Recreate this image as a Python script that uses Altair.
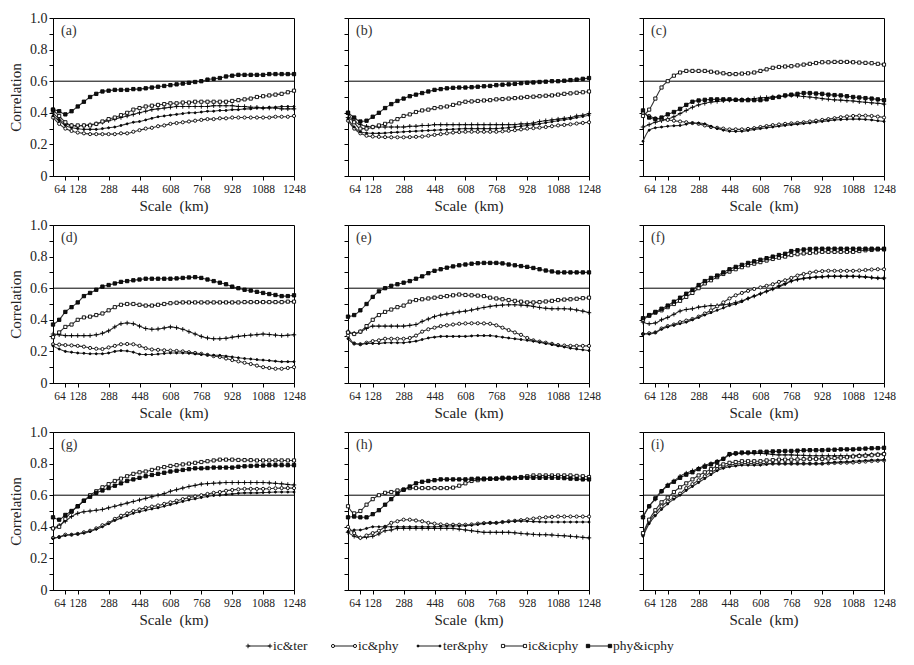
import altair as alt
import pandas as pd

SCALE_KM = [0, 32, 64, 96, 128, 160, 192, 224, 256, 288,
            320, 352, 384, 416, 448, 480, 512, 544, 576, 608,
            640, 672, 704, 736, 768, 800, 832, 864, 896, 928,
            960, 992, 1024, 1056, 1088, 1120, 1152, 1184, 1216, 1248]
SERIES = ["ic&ter", "ic&phy", "ter&phy", "ic&icphy", "phy&icphy"]
X_TICKS = [64, 128, 288, 448, 608, 768, 928, 1088, 1248]
Y_TICKS = [0, 0.1, 0.2, 0.3, 0.4, 0.5, 0.6, 0.7, 0.8, 0.9, 1.0]
THRESHOLD = [0.6]
PANEL_LABELS = ["(a)", "(b)", "(c)", "(d)", "(e)", "(f)", "(g)", "(h)", "(i)"]
X_TITLE = "Scale\u2002(km)"
Y_TITLE = "Correlation"

# ---- panel (a)
a_ic_ter = [.40, .36, .33, .32, .315, .32, .325, .33, .34, .35,
            .36, .37, .38, .39, .40, .41, .42, .425, .43, .435,
            .44, .44, .44, .44, .44, .44, .445, .445, .445, .445,
            .44, .44, .435, .435, .43, .43, .43, .425, .425, .425]
a_ic_phy = [.37, .33, .30, .285, .275, .27, .265, .265, .265, .265,
            .265, .27, .27, .28, .29, .30, .305, .315, .32, .33,
            .335, .34, .345, .35, .355, .36, .36, .365, .365, .37,
            .37, .37, .37, .37, .37, .37, .375, .375, .375, .38]
a_ter_phy = [.38, .35, .32, .305, .30, .295, .295, .295, .30, .305,
             .31, .32, .33, .34, .345, .355, .365, .375, .38, .385,
             .39, .395, .40, .40, .405, .41, .41, .415, .415, .42,
             .42, .425, .425, .43, .43, .435, .435, .44, .44, .44]
a_ic_icphy = [.42, .38, .34, .32, .32, .32, .32, .33, .345, .36,
              .37, .385, .40, .42, .43, .44, .445, .45, .455, .46,
              .46, .465, .465, .47, .47, .47, .47, .47, .47, .475,
              .48, .485, .49, .50, .505, .51, .515, .52, .53, .54]
a_phy_icphy = [.42, .41, .39, .41, .44, .47, .50, .52, .535, .54,
               .545, .545, .545, .55, .55, .555, .56, .565, .57, .575,
               .58, .585, .59, .595, .60, .61, .615, .62, .63, .635,
               .64, .64, .64, .64, .64, .645, .645, .645, .645, .645]

# ---- panel (b)
b_ic_ter = [.37, .345, .325, .315, .31, .31, .31, .31, .31, .31,
            .315, .315, .32, .32, .325, .325, .325, .325, .325, .325,
            .325, .325, .325, .325, .325, .325, .325, .325, .33, .33,
            .335, .345, .35, .355, .36, .365, .37, .38, .385, .395]
b_ic_phy = [.35, .30, .27, .255, .25, .248, .246, .245, .245, .245,
            .246, .248, .25, .255, .26, .265, .27, .275, .278, .28,
            .28, .28, .28, .28, .28, .283, .286, .29, .295, .30,
            .303, .306, .31, .315, .32, .323, .327, .332, .336, .34]
b_ter_phy = [.36, .31, .28, .272, .27, .27, .272, .275, .277, .28,
             .282, .284, .286, .288, .29, .292, .294, .296, .298, .30,
             .30, .30, .30, .30, .30, .303, .306, .31, .315, .32,
             .325, .33, .337, .343, .35, .356, .362, .37, .377, .385]
b_ic_icphy = [.40, .34, .30, .30, .31, .32, .33, .345, .36, .38,
              .39, .405, .415, .42, .43, .435, .44, .45, .46, .47,
              .472, .475, .478, .48, .485, .487, .49, .493, .496, .50,
              .502, .505, .508, .51, .515, .52, .523, .527, .53, .535]
b_phy_icphy = [.40, .37, .345, .35, .375, .40, .43, .455, .475, .49,
               .505, .515, .525, .535, .545, .55, .555, .558, .56, .56,
               .562, .565, .568, .57, .575, .578, .58, .583, .587, .59,
               .592, .595, .597, .60, .60, .603, .607, .61, .615, .62]

# ---- panel (c)
c_ic_ter = [.31, .325, .34, .35, .36, .375, .395, .415, .435, .45,
            .46, .468, .472, .476, .48, .482, .484, .486, .49, .495,
            .497, .50, .503, .506, .51, .507, .503, .50, .495, .49,
            .486, .482, .48, .477, .475, .47, .467, .463, .46, .455]
c_ic_phy = [.40, .38, .365, .36, .355, .35, .345, .34, .335, .33,
            .32, .31, .305, .30, .295, .295, .295, .298, .303, .31,
            .316, .322, .326, .33, .333, .336, .34, .345, .35, .355,
            .36, .366, .372, .377, .38, .382, .382, .38, .376, .37]
c_ter_phy = [.22, .29, .305, .31, .315, .318, .32, .328, .335, .335,
             .33, .315, .30, .29, .283, .282, .283, .288, .295, .30,
             .305, .31, .315, .32, .325, .328, .332, .335, .34, .345,
             .35, .355, .357, .359, .36, .36, .358, .355, .35, .345]
c_ic_icphy = [.38, .42, .49, .56, .60, .635, .655, .665, .665, .665,
              .665, .66, .655, .65, .645, .645, .648, .65, .655, .665,
              .675, .685, .69, .693, .695, .70, .705, .71, .715, .72,
              .72, .722, .722, .722, .72, .718, .716, .714, .71, .705]
c_phy_icphy = [.415, .37, .36, .37, .39, .405, .425, .45, .47, .478,
               .482, .485, .485, .485, .485, .482, .48, .48, .48, .48,
               .485, .495, .50, .51, .515, .52, .525, .525, .522, .52,
               .515, .512, .51, .505, .50, .497, .493, .49, .485, .48]

# ---- panel (d)
d_ic_ter = [.31, .305, .30, .30, .30, .30, .30, .305, .315, .33,
            .355, .375, .38, .375, .36, .345, .34, .342, .348, .355,
            .35, .34, .325, .31, .295, .285, .28, .28, .283, .29,
            .295, .30, .303, .306, .31, .307, .303, .30, .302, .305]
d_ic_phy = [.245, .243, .24, .238, .235, .23, .222, .217, .215, .225,
            .235, .245, .247, .245, .235, .22, .212, .21, .207, .205,
            .203, .20, .195, .19, .185, .178, .17, .165, .155, .145,
            .137, .128, .12, .11, .10, .095, .09, .09, .095, .10]
d_ter_phy = [.235, .215, .20, .195, .19, .188, .185, .185, .185, .19,
             .20, .205, .203, .195, .182, .18, .18, .183, .187, .19,
             .19, .19, .188, .184, .18, .178, .176, .175, .17, .165,
             .16, .155, .152, .148, .145, .142, .138, .135, .135, .135]
d_ic_icphy = [.29, .32, .355, .37, .40, .415, .42, .43, .44, .46,
              .48, .495, .50, .50, .495, .49, .49, .495, .50, .505,
              .508, .51, .51, .51, .51, .51, .51, .51, .51, .51,
              .51, .512, .512, .512, .512, .512, .512, .512, .515, .515]
d_phy_icphy = [.37, .40, .45, .48, .51, .55, .57, .59, .61, .62,
               .63, .64, .645, .65, .655, .66, .66, .66, .66, .66,
               .662, .665, .668, .67, .665, .655, .645, .635, .625, .61,
               .60, .59, .585, .577, .57, .563, .557, .55, .55, .555]

# ---- panel (e)
e_ic_ter = [.325, .315, .325, .345, .36, .36, .36, .36, .36, .36,
            .365, .37, .39, .405, .42, .43, .437, .443, .45, .455,
            .462, .47, .478, .485, .49, .493, .495, .495, .493, .49,
            .485, .478, .473, .47, .47, .47, .468, .462, .455, .445]
e_ic_phy = [.30, .25, .245, .255, .265, .27, .28, .28, .28, .28,
            .285, .30, .325, .34, .35, .36, .365, .37, .375, .377,
            .378, .378, .377, .375, .365, .35, .335, .32, .305, .285,
            .27, .262, .255, .248, .24, .237, .235, .235, .235, .235]
e_ter_phy = [.28, .25, .245, .25, .25, .25, .255, .255, .255, .255,
             .26, .265, .275, .285, .29, .295, .295, .295, .295, .295,
             .298, .30, .30, .30, .295, .29, .285, .28, .275, .27,
             .265, .258, .25, .243, .235, .228, .22, .215, .21, .205]
e_ic_icphy = [.32, .31, .325, .36, .40, .43, .45, .465, .48, .49,
              .515, .525, .53, .535, .54, .545, .55, .555, .56, .557,
              .555, .553, .55, .54, .535, .53, .525, .52, .515, .51,
              .51, .512, .516, .52, .525, .528, .53, .533, .537, .54]
e_phy_icphy = [.42, .43, .46, .50, .545, .58, .60, .615, .625, .635,
               .645, .66, .675, .695, .71, .72, .73, .738, .745, .75,
               .755, .758, .76, .76, .76, .757, .75, .745, .74, .735,
               .728, .72, .712, .706, .70, .70, .70, .70, .70, .70]

# ---- panel (f)
f_ic_ter = [.385, .375, .38, .40, .415, .435, .455, .465, .47, .48,
            .485, .49, .49, .495, .50, .51, .52, .535, .55, .565,
            .58, .595, .615, .63, .645, .655, .662, .667, .67, .672,
            .675, .675, .675, .675, .675, .675, .672, .668, .665, .665]
f_ic_phy = [.31, .315, .32, .345, .36, .37, .385, .395, .405, .42,
            .44, .46, .485, .51, .535, .555, .57, .583, .595, .605,
            .615, .625, .64, .65, .665, .68, .69, .698, .705, .708,
            .71, .71, .71, .71, .71, .712, .715, .718, .72, .72]
f_ter_phy = [.31, .31, .32, .34, .355, .365, .375, .385, .40, .415,
             .43, .445, .46, .475, .49, .50, .515, .535, .55, .565,
             .58, .595, .61, .625, .645, .655, .662, .666, .67, .673,
             .675, .675, .675, .675, .675, .673, .67, .667, .663, .66]
f_ic_icphy = [.40, .425, .445, .46, .48, .50, .52, .545, .57, .60,
              .63, .65, .67, .69, .705, .72, .733, .745, .755, .765,
              .775, .785, .793, .80, .81, .815, .82, .823, .826, .83,
              .83, .83, .83, .83, .83, .835, .84, .842, .845, .845]
f_phy_icphy = [.41, .43, .45, .47, .49, .515, .54, .565, .59, .62,
               .645, .665, .68, .70, .72, .735, .748, .76, .77, .78,
               .79, .80, .81, .818, .835, .84, .845, .848, .85, .85,
               .85, .85, .85, .85, .85, .85, .85, .85, .85, .85]

# ---- panel (g)
g_ic_ter = [.39, .41, .435, .465, .485, .495, .50, .505, .51, .52,
            .53, .54, .55, .56, .57, .58, .59, .60, .61, .625,
            .635, .645, .655, .662, .67, .673, .676, .678, .68, .68,
            .68, .68, .68, .68, .68, .678, .675, .672, .668, .665]
g_ic_phy = [.33, .335, .35, .35, .355, .365, .375, .39, .41, .425,
            .45, .47, .485, .50, .51, .52, .528, .535, .545, .555,
            .565, .575, .585, .592, .60, .608, .615, .62, .628, .633,
            .637, .64, .64, .64, .64, .642, .644, .645, .645, .645]
g_ter_phy = [.325, .335, .345, .35, .355, .36, .37, .385, .40, .42,
             .44, .455, .47, .485, .495, .505, .513, .52, .53, .54,
             .55, .56, .57, .577, .585, .592, .598, .60, .605, .608,
             .612, .615, .615, .615, .617, .618, .62, .62, .62, .62]
g_ic_icphy = [.39, .40, .45, .495, .53, .565, .60, .625, .65, .67,
              .69, .705, .72, .735, .745, .75, .76, .77, .778, .785,
              .79, .795, .80, .805, .81, .815, .82, .825, .825, .825,
              .823, .822, .822, .82, .82, .82, .82, .82, .82, .82]
g_phy_icphy = [.46, .445, .475, .50, .53, .565, .59, .615, .63, .645,
               .66, .675, .69, .70, .71, .72, .728, .735, .742, .75,
               .755, .76, .765, .77, .77, .772, .775, .775, .775, .775,
               .78, .783, .785, .787, .788, .79, .79, .79, .79, .79]

# ---- panel (h)
h_ic_ter = [.365, .34, .33, .335, .34, .355, .375, .38, .39, .39,
            .39, .39, .39, .39, .39, .39, .39, .39, .385, .38,
            .375, .37, .365, .365, .365, .365, .365, .362, .358, .355,
            .352, .35, .35, .348, .345, .343, .34, .337, .333, .33]
h_ic_phy = [.40, .36, .33, .345, .36, .375, .40, .425, .435, .445,
            .445, .44, .435, .425, .42, .415, .413, .413, .413, .413,
            .415, .42, .423, .425, .425, .43, .435, .438, .442, .447,
            .452, .457, .46, .463, .465, .465, .465, .465, .465, .465]
h_ter_phy = [.37, .38, .38, .39, .40, .40, .40, .40, .40, .40,
             .40, .40, .40, .40, .40, .403, .405, .405, .405, .407,
             .41, .415, .42, .425, .425, .43, .432, .435, .435, .435,
             .433, .432, .43, .43, .43, .43, .43, .43, .43, .43]
h_ic_icphy = [.53, .485, .50, .54, .575, .60, .615, .62, .63, .635,
              .645, .645, .645, .645, .645, .645, .645, .648, .66, .675,
              .69, .695, .70, .703, .705, .705, .706, .708, .715, .72,
              .725, .725, .725, .725, .725, .725, .725, .722, .72, .715]
h_phy_icphy = [.46, .465, .46, .46, .48, .505, .54, .575, .61, .635,
               .655, .675, .685, .69, .695, .70, .70, .70, .70, .70,
               .703, .705, .705, .705, .705, .71, .71, .71, .71, .71,
               .71, .71, .71, .71, .71, .708, .705, .703, .70, .70]

# ---- panel (i)
i_ic_ter = [.465, .53, .575, .625, .665, .69, .72, .74, .755, .77,
            .79, .80, .815, .83, .855, .862, .865, .865, .865, .865,
            .862, .858, .855, .855, .855, .853, .852, .85, .85, .85,
            .85, .85, .85, .85, .85, .853, .856, .858, .86, .862]
i_ic_phy = [.35, .435, .485, .53, .56, .585, .61, .645, .67, .695,
            .72, .745, .765, .78, .79, .795, .80, .80, .80, .80,
            .80, .80, .80, .80, .80, .80, .80, .80, .80, .80,
            .802, .804, .805, .806, .807, .81, .813, .816, .818, .82]
i_ter_phy = [.34, .42, .47, .51, .545, .575, .60, .63, .655, .68,
             .705, .73, .755, .77, .78, .785, .79, .79, .79, .79,
             .795, .80, .80, .80, .80, .80, .80, .80, .80, .80,
             .805, .808, .81, .812, .815, .817, .82, .822, .823, .825]
i_ic_icphy = [.36, .445, .505, .555, .585, .62, .65, .675, .70, .725,
              .745, .765, .785, .795, .805, .81, .815, .815, .815, .815,
              .82, .822, .825, .825, .825, .826, .828, .83, .83, .83,
              .832, .835, .838, .84, .845, .848, .85, .853, .856, .86]
i_phy_icphy = [.46, .53, .58, .625, .66, .685, .71, .73, .745, .765,
               .78, .795, .81, .83, .86, .865, .87, .87, .872, .875,
               .875, .877, .878, .88, .88, .882, .884, .885, .885, .885,
               .887, .888, .89, .89, .89, .893, .895, .897, .898, .90]

PANEL_SERIES = [
    [a_ic_ter, a_ic_phy, a_ter_phy, a_ic_icphy, a_phy_icphy],
    [b_ic_ter, b_ic_phy, b_ter_phy, b_ic_icphy, b_phy_icphy],
    [c_ic_ter, c_ic_phy, c_ter_phy, c_ic_icphy, c_phy_icphy],
    [d_ic_ter, d_ic_phy, d_ter_phy, d_ic_icphy, d_phy_icphy],
    [e_ic_ter, e_ic_phy, e_ter_phy, e_ic_icphy, e_phy_icphy],
    [f_ic_ter, f_ic_phy, f_ter_phy, f_ic_icphy, f_phy_icphy],
    [g_ic_ter, g_ic_phy, g_ter_phy, g_ic_icphy, g_phy_icphy],
    [h_ic_ter, h_ic_phy, h_ter_phy, h_ic_icphy, h_phy_icphy],
    [i_ic_ter, i_ic_phy, i_ter_phy, i_ic_icphy, i_phy_icphy],
]

# ---- marker styling
PLUS = "M-1,0L1,0M0,-1L0,1"
SHAPES = [PLUS, "circle", "circle", "square", "square"]
FILLS = ["transparent", "white", "#111", "white", "#111"]
SIZES = [20, 10, 4, 10, 11]
FONT = "Liberation Serif"
INK = "#222"
LINE = "#333"

shape_enc = alt.Shape("series:N", scale=alt.Scale(domain=SERIES, range=SHAPES), legend=None)
fill_enc = alt.Fill("series:N", scale=alt.Scale(domain=SERIES, range=FILLS), legend=None)
size_enc = alt.Size("series:N", scale=alt.Scale(type="ordinal", domain=SERIES, range=SIZES),
                    legend=None)

W, H = 241, 158


def make_panel(idx):
    rows = []
    for name, vals in zip(SERIES, PANEL_SERIES[idx]):
        for km, v in zip(SCALE_KM, vals):
            rows.append({"scale": km, "corr": v, "series": name})
    df = pd.DataFrame(rows)
    first_col = (idx % 3 == 0)

    x = alt.X("scale:Q",
              scale=alt.Scale(domain=[0, 1248], nice=False, zero=False),
              axis=alt.Axis(values=X_TICKS, title=X_TITLE, grid=False, format="d",
                            labelFlush=False, labelOverlap=False, labelPadding=3,
                            labelFontSize=11.5,
                            labelAlign={"condition": {"test": "datum.value == 64",
                                                      "value": "right"},
                                        "value": "center"},
                            titlePadding=4))
    y_axis_kwargs = dict(values=Y_TICKS, grid=False, labels=first_col,
                         labelFontSize=14,
                         labelExpr="datum.value == 0 ? '0' : (round(datum.value*10) % 2 == 0 ? format(datum.value, '.1f') : '')",
                         labelPadding=2, titlePadding=6)
    y_axis_kwargs["title"] = Y_TITLE if first_col else ""
    y = alt.Y("corr:Q", scale=alt.Scale(domain=[0, 1], nice=False, zero=False),
              axis=alt.Axis(**y_axis_kwargs))

    rule = alt.Chart(pd.DataFrame({"corr": THRESHOLD})).mark_rule(
        color="black", strokeWidth=1).encode(y=y)
    lines = alt.Chart(df).mark_line(color=LINE, strokeWidth=1.1,
                                    interpolate="monotone").encode(
        x=x, y=y, detail="series:N")
    pts = alt.Chart(df).mark_point(opacity=1, stroke="#000", strokeWidth=0.9).encode(
        x=x, y=y, shape=shape_enc, fill=fill_enc, size=size_enc)
    lab = alt.Chart(pd.DataFrame({"label": [PANEL_LABELS[idx]]})).mark_text(
        align="left", baseline="middle", font=FONT, fontSize=14, color="#333").encode(
        x=alt.value(8), y=alt.value(13), text="label:N")
    return alt.layer(rule, lines, pts, lab).properties(width=W, height=H)


panels = [make_panel(i) for i in range(9)]
grid = alt.concat(*panels, columns=3, spacing={"row": 49, "column": 54},
                  bounds="flush")

# ---- legend row (point scale, shifted right to sit under the middle)
SHIFT = 121
leg_df = pd.DataFrame({"series": SERIES})
lx = alt.X("series:N", sort=SERIES,
           scale=alt.Scale(type="point", domain=SERIES, padding=1), axis=None)
base = alt.Chart(leg_df)
seg = base.mark_rule(color=LINE, strokeWidth=1.1, xOffset=SHIFT - 11,
                     x2Offset=SHIFT + 11).encode(
    x=lx, x2=alt.X2("series:N"), y=alt.value(10))
p_left = base.mark_point(opacity=1, stroke="#000", strokeWidth=0.9,
                         xOffset=SHIFT - 11).encode(
    x=lx, y=alt.value(10), shape=shape_enc, fill=fill_enc, size=size_enc)
p_right = base.mark_point(opacity=1, stroke="#000", strokeWidth=0.9,
                          xOffset=SHIFT + 11).encode(
    x=lx, y=alt.value(10), shape=shape_enc, fill=fill_enc, size=size_enc)
ltxt = base.mark_text(align="left", baseline="middle", xOffset=SHIFT, dx=14, font=FONT,
                      fontSize=13.5, color=INK).encode(
    x=lx, y=alt.value(10), text="series:N")
legend = alt.layer(seg, p_left, p_right, ltxt).properties(
    width=510, height=20, view=alt.ViewBackground(stroke="transparent"))

chart = alt.vconcat(grid, legend, spacing=7).properties(
    padding={"left": 0, "top": 2, "right": 5, "bottom": 2}
).configure_view(stroke="black", strokeWidth=1).configure_axis(
    domainColor="black", tickColor="black", labelFont=FONT, titleFont=FONT,
    labelFontSize=12, titleFontSize=15, titleFontWeight="normal",
    labelColor=INK, titleColor=INK, tickSize=4, domainWidth=1, tickWidth=1
)

chart.save("out.html", embed_options={"renderer": "svg", "actions": False})
